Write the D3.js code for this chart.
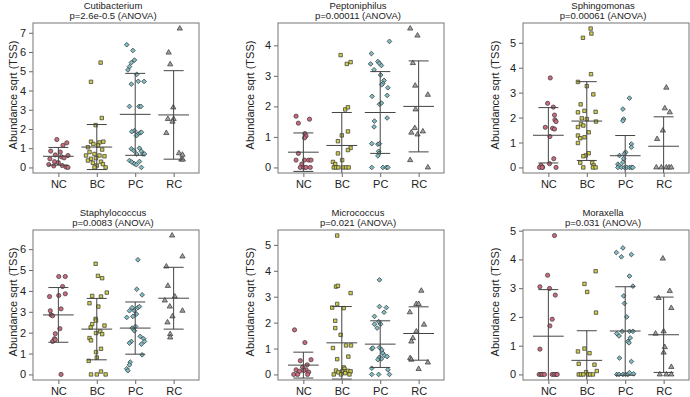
<!DOCTYPE html>
<html>
<head>
<meta charset="utf-8">
<script src="https://cdn.jsdelivr.net/npm/d3@7"></script>
<style>
  body { margin: 0; background: #fff; }
  text { font-family: "Liberation Sans", Arial, sans-serif; fill: #222; }
</style>
</head>
<body>
<div id="chart"></div>
<script>
// Groups and panel titles
const groups = ["NC", "BC", "PC", "RC"];
const taxa = ["Cutibacterium", "Peptoniphilus", "Sphingomonas", "Staphylococcus", "Micrococcus", "Moraxella"];
const pLabels = ["p=2.6e-0.5 (ANOVA)", "p=0.00011 (ANOVA)", "p=0.00061 (ANOVA)", "p=0.0083 (ANOVA)", "p=0.021 (ANOVA)", "p=0.031 (ANOVA)"];

// Group means and standard deviations (one row per taxon, NC BC PC RC)
const means = [
    [0.58, 1.06, 2.76, 2.73],
    [0.50, 0.72, 1.80, 2.00],
    [1.29, 1.86, 0.47, 0.85],
    [2.85, 2.17, 2.22, 3.65],
    [0.36, 1.22, 1.17, 1.58],
    [1.33, 0.49, 1.51, 1.38]
];
const sds = [
    [0.46, 1.17, 2.13, 2.30],
    [0.63, 1.08, 1.34, 1.49],
    [1.11, 1.58, 0.81, 1.18],
    [1.31, 1.47, 1.25, 1.48],
    [0.50, 1.40, 0.90, 1.03],
    [1.62, 1.03, 1.54, 1.31]
];

// Samples per group: [jitter offset, abundance]
const cutibacteriumPts = [
    [[-0.04,1.45],[0.22,1.28],[0.12,1.15],[-0.2,0.85],[0.05,0.8],[-0.08,0.65],[0.25,0.62],[0.08,0.55],[-0.22,0.45],[0.15,0.5],[-0.1,0.3],[0.0,0.25],[-0.25,0.15],[-0.12,0.08],[0.2,0.02],[0.25,0.0],[0.1,0.1]],
    [[0.1,5.45],[-0.15,4.45],[0.13,2.57],[-0.03,2.2],[-0.15,1.34],[0.07,1.3],[0.17,1.34],[-0.09,1.22],[0.03,1.14],[-0.23,1.05],[0.14,0.93],[-0.19,0.8],[-0.06,0.7],[-0.28,0.62],[0.07,0.62],[0.2,0.58],[-0.15,0.45],[-0.02,0.48],[-0.23,0.36],[0.11,0.3],[-0.1,0.24],[0.16,0.17],[0,0.1],[-0.06,0],[0.23,0]],
    [[-0.22,6.38],[-0.06,6.08],[-0.02,5.58],[-0.1,5.45],[-0.15,5.24],[-0.19,5.07],[0.04,4.84],[-0.1,4.33],[0.08,4.48],[0.23,4.47],[-0.15,3.17],[0.1,3.17],[0.15,3.17],[-0.02,1.91],[-0.09,1.86],[0.07,1.74],[0.03,1.65],[0.13,1.8],[0.16,1.83],[-0.1,0.97],[-0.04,0.88],[0.11,1.0],[0.16,0.84],[0.04,0.7],[0.2,0.7],[0.24,0.7],[-0.15,0.36],[-0.09,0.28],[-0.02,0.19],[0.03,0.14],[0.11,0.31],[0.16,0]],
    [[0.16,7.22],[-0.13,5.97],[-0.09,5.36],[-0.01,3.12],[-0.15,2.52],[0,2.52],[-0.03,2.38],[-0.19,1.79],[0.14,0.74],[0.23,0.66],[0.2,0.41],[0.24,0.41]]
];
const peptoniphilusPts = [
    [[-0.19,1.68],[0.16,1.58],[-0.13,1.45],[0.04,1.11],[0.07,1.03],[0.03,0.97],[-0.13,0.46],[-0.19,0.24],[0.03,0.24],[0.14,0.24],[0.2,0.24],[-0.04,0.11],[-0.08,0],[0.01,0],[0.07,0],[0.18,0]],
    [[-0.03,3.68],[0.13,3.39],[0.23,3.45],[0.09,1.9],[0.16,1.97],[0.16,1.18],[0,1.05],[-0.1,0.86],[0.23,0.64],[0.16,0.57],[-0.1,0.46],[0.01,0.24],[-0.23,0.18],[-0.17,0.11],[-0.21,0],[-0.15,0],[-0.09,0],[0.03,0],[0.11,0],[0.18,0]],
    [[0.24,4.13],[-0.23,3.73],[-0.25,3.39],[-0.06,3.47],[-0.02,3.41],[0.03,3.34],[-0.16,3.2],[0.01,3.03],[0.1,2.85],[0.07,2.76],[0.04,2.71],[0.2,2.61],[-0.21,2.33],[0.18,2.36],[-0.02,2.07],[0.03,2.11],[0.18,1.62],[-0.15,1.52],[-0.16,1.33],[-0.22,0.78],[-0.06,0.76],[-0.02,0.78],[-0.04,0.53],[-0.03,0.46],[-0.06,0.38],[-0.22,0],[0.07,0],[0.16,0],[0.2,0]],
    [[-0.22,4.55],[-0.03,4.32],[-0.15,3.42],[-0.09,2.68],[0.24,2.38],[-0.08,1.9],[-0.1,1.29],[-0.19,1.14],[0.11,1.18],[-0.03,1.08],[-0.22,0.24],[0.24,0]]
];
const sphingomonasPts = [
    [[0.05,3.59],[-0.02,2.57],[0.13,2.42],[0.16,2.1],[0.17,1.91],[0.2,1.84],[-0.08,1.61],[0.11,1.57],[0.16,1.54],[0.04,1.24],[0.14,0.35],[0.03,0.15],[-0.19,0.08],[-0.15,0.01],[-0.23,0],[-0.16,0],[0.2,0]],
    [[0.1,5.57],[0.12,5.37],[-0.1,5.2],[0.11,3.74],[-0.23,3.43],[0,3.26],[0.17,2.93],[-0.16,2.53],[-0.23,2.21],[-0.06,2.27],[0.23,2.23],[-0.13,1.97],[0,1.94],[0.24,1.84],[-0.15,1.74],[-0.09,1.68],[-0.23,1.62],[0.05,1.41],[-0.23,1.28],[-0.17,1.17],[-0.06,1.21],[-0.23,0.98],[0.05,0.57],[-0.03,0.48],[-0.09,0.45],[-0.17,0.19],[0.14,0.19],[0.18,0.08],[-0.09,0],[0.16,0],[0.23,0]],
    [[0.11,2.78],[-0.06,2.34],[-0.04,1.94],[-0.06,1.87],[0.16,0.94],[0.16,0.81],[0.01,0.61],[-0.02,0.55],[-0.15,0.48],[-0.04,0.35],[-0.06,0.21],[-0.19,0.13],[-0.15,0.08],[-0.19,0],[-0.1,0],[-0.02,0],[0.04,0],[0.11,0],[0.16,0],[0.2,0]],
    [[0.07,3.2],[0.03,2.37],[0.16,2.21],[-0.02,1.48],[-0.17,1.14],[-0.19,0],[-0.06,0],[0.07,0],[0.14,0],[0.2,0]]
];
const staphylococcusPts = [
    [[0.01,4.69],[0.18,4.69],[0.11,4.21],[-0.23,3.73],[0.01,3.78],[0.18,3.86],[0.07,3.14],[-0.21,3.05],[-0.19,2.85],[-0.15,2.81],[0.04,2.19],[-0.08,1.95],[-0.1,1.71],[-0.15,1.58],[-0.08,1.66],[0.07,0]],
    [[-0.03,5.3],[0.03,4.72],[0.14,4.61],[0.26,3.92],[-0.12,3.76],[0.11,3.73],[-0.19,3.41],[0.04,3.25],[-0.03,2.66],[-0.02,2.58],[0.2,2.34],[-0.12,2.41],[-0.16,2.25],[0.09,2.06],[-0.02,1.98],[0.14,1.93],[-0.19,1.74],[-0.15,1.63],[0.11,1.23],[-0.02,1.07],[0,0.81],[-0.21,0.65],[0.11,0.14],[-0.15,0],[0,0],[0.23,0]],
    [[0.07,5.49],[0.04,4.08],[0.18,3.81],[-0.15,3.05],[-0.02,3.05],[0.07,3.2],[-0.06,2.78],[-0.22,2.73],[0.03,2.89],[-0.08,3.2],[0.11,3.25],[0.01,2.3],[-0.08,2.22],[-0.02,2.09],[-0.1,1.58],[-0.15,1.5],[0.13,1.82],[0.22,1.71],[0.16,1.45],[0.24,1.58],[0.18,0.94],[-0.13,0.59],[-0.15,0.46],[-0.22,0.27],[-0.19,0.18]],
    [[-0.04,6.65],[0.23,5.65],[-0.19,5.17],[-0.15,4.24],[0.03,3.73],[-0.23,3.54],[-0.1,3.25],[0.23,3.05],[-0.03,2.78],[-0.16,2.49],[-0.09,1.93],[-0.09,1.77]]
];
const micrococcusPts = [
    [[-0.23,1.72],[0.04,1.23],[-0.08,0.53],[0.2,0.57],[0.1,0.37],[-0.02,0.28],[-0.19,0.18],[0.07,0.18],[-0.1,0.12],[0.01,0.15],[0.14,0.09],[-0.25,0],[-0.15,0],[0.11,0]],
    [[-0.12,5.36],[-0.15,3.39],[-0.1,3.42],[0.23,3.14],[-0.12,2.72],[-0.25,2.58],[0.05,2.56],[-0.17,2.07],[-0.17,1.79],[-0.03,1.53],[0.11,1.12],[0.24,1.12],[-0.23,1.02],[-0.12,0.59],[0.17,0.69],[0.05,0.27],[-0.15,0.15],[0.07,0.22],[0.01,0.12],[0.11,0.12],[0.16,0.14],[0.23,0.12],[-0.09,0.08],[0.09,0.05],[-0.21,0],[-0.02,0],[0.2,0]],
    [[-0.02,3.65],[-0.02,2.62],[0.16,2.58],[-0.15,2.24],[0.1,2.4],[-0.04,2.04],[0.01,1.94],[-0.08,1.79],[-0.15,1.94],[-0.22,0.99],[-0.19,1.02],[-0.02,1.04],[0.04,0.95],[0.07,0.82],[0.11,0.73],[-0.02,0.66],[-0.06,0.57],[0.03,0.6],[0.18,0.69],[-0.22,0.24],[0.2,0.18],[-0.22,0],[-0.04,0],[0.24,0]],
    [[0.07,3.23],[-0.06,2.72],[0,2.72],[-0.23,2.4],[0.14,1.92],[-0.06,1.66],[-0.15,1.4],[-0.19,1.27],[-0.22,0.63],[-0.19,0.57],[0.24,0.46],[0,0.21]]
];
const moraxellaPts = [
    [[0.16,4.83],[-0.02,3.45],[-0.22,3.05],[0.03,2.99],[0.18,2.76],[0.1,1.92],[0.04,1.69],[-0.22,0.88],[-0.24,0],[-0.19,0],[-0.15,0],[-0.1,0],[0.1,0],[0.15,0],[0.2,0],[0.23,0]],
    [[0.23,3.59],[-0.06,3.15],[0.01,2.87],[0.24,2.15],[-0.23,0.8],[-0.06,0.9],[0.07,0.74],[-0.21,0.37],[0.2,0.34],[0.26,0.12],[-0.02,0.08],[-0.21,0],[-0.15,0],[-0.09,0],[0.03,0],[0.09,0],[0.16,0]],
    [[-0.06,4.4],[-0.23,4.24],[-0.1,4.09],[0.16,4.17],[0.11,3.42],[0.2,3.07],[-0.04,2.73],[-0.02,2.47],[0.04,2.0],[-0.22,1.42],[-0.16,1.34],[0.11,1.5],[0.2,1.5],[-0.08,1.5],[0.13,1.27],[0.07,1.15],[0.1,1.1],[-0.15,0.57],[0.16,0.45],[-0.22,0],[-0.16,0],[-0.06,0],[0.01,0],[0.07,0],[0.22,0.02],[0.11,0.06]],
    [[-0.02,4.03],[0.16,2.9],[-0.13,2.66],[0.2,2.31],[-0.21,1.42],[0,1.5],[0.03,0.95],[0,0.76],[0.2,0.26],[-0.1,0],[0.07,0],[0.2,0]]
];
const panelPoints = [cutibacteriumPts, peptoniphilusPts, sphingomonasPts, staphylococcusPts, micrococcusPts, moraxellaPts];

// Layout
const width = 690, height = 397;
const boxW = 166, boxH = 150;
const colLeft = [33, 278, 523];
const rowTop = [23, 230];
const yLabelGap = [20, 28, 28];

const fills = ["#cc6a7e", "#cfcd4c", "#7fc0c8", "#a0a0a0"];
const symbols = [d3.symbolCircle, d3.symbolSquare, d3.symbolSquare, d3.symbolTriangle];
const symbolSizes = [14, 12, 11, 12];
const symbolRotate = [0, 0, 45, 0];

const svg = d3.select("#chart").append("svg")
    .attr("width", width)
    .attr("height", height);

taxa.forEach((taxon, i) => {
    const col = i % 3, row = Math.floor(i / 3);
    const pts = panelPoints[i];

    // x: groups at 1..4, R-style xlim 0.5..4.5 with 4% padding
    const x = d3.scaleLinear().domain([0.34, 4.66]).range([0, boxW]);

    // y: range of the samples with 4% padding
    const all = pts.flat().map(d => d[1]);
    const ext = d3.extent(all);
    const pad = (ext[1] - ext[0]) * 0.04;
    const y = d3.scaleLinear().domain([ext[0] - pad, ext[1] + pad]).range([boxH, 0]);

    const g = svg.append("g")
        .attr("transform", `translate(${colLeft[col]},${rowTop[row]})`);

    // clip for error bars
    g.append("clipPath").attr("id", "clip" + i)
        .append("rect").attr("width", boxW).attr("height", boxH);

    // y axis
    const yTicks = d3.range(Math.ceil(y.domain()[0]), Math.floor(y.domain()[1]) + 1);
    const yAxis = g.append("g")
        .call(d3.axisLeft(y).tickValues(yTicks).tickSize(4).tickPadding(3).tickFormat(d3.format("d")));
    yAxis.select(".domain").remove();
    yAxis.selectAll("line").attr("stroke", "#666");
    yAxis.selectAll("text").attr("font-size", 11).attr("fill", "#333")
        .style("font-family", "'Liberation Sans', Arial, sans-serif");

    // x axis
    const xAxis = g.append("g")
        .attr("transform", `translate(0,${boxH})`)
        .call(d3.axisBottom(x).tickValues([1, 2, 3, 4]).tickSize(4).tickPadding(3)
            .tickFormat(d => groups[d - 1]));
    xAxis.select(".domain").remove();
    xAxis.selectAll("line").attr("stroke", "#666");
    xAxis.selectAll("text").attr("font-size", 11).attr("fill", "#333")
        .style("font-family", "'Liberation Sans', Arial, sans-serif");

    // points
    pts.forEach((grp, gi) => {
        const sym = d3.symbol().type(symbols[gi]).size(symbolSizes[gi]);
        g.append("g").selectAll("path")
            .data(grp)
            .join("path")
            .attr("d", sym)
            .attr("transform", d => `translate(${x(gi + 1 + d[0])},${y(d[1])}) rotate(${symbolRotate[gi]})`)
            .attr("fill", fills[gi])
            .attr("stroke", "#333")
            .attr("stroke-width", 0.7);
    });

    // mean +/- sd bars
    const bars = g.append("g").attr("clip-path", `url(#clip${i})`)
        .attr("stroke", "#444").attr("stroke-width", 1);
    groups.forEach((grpName, gi) => {
        const m = means[i][gi], s = sds[i][gi], cx = gi + 1;
        bars.append("line")
            .attr("x1", x(cx)).attr("x2", x(cx))
            .attr("y1", y(m + s)).attr("y2", y(m - s));
        bars.append("line")
            .attr("x1", x(cx - 0.4)).attr("x2", x(cx + 0.4))
            .attr("y1", y(m)).attr("y2", y(m));
        [m + s, m - s].forEach(v => {
            bars.append("line")
                .attr("x1", x(cx - 0.26)).attr("x2", x(cx + 0.26))
                .attr("y1", y(v)).attr("y2", y(v));
        });
    });

    // frame
    g.append("rect")
        .attr("width", boxW).attr("height", boxH)
        .attr("fill", "none").attr("stroke", "#777").attr("stroke-width", 1);

    // titles
    g.append("text")
        .attr("x", boxW / 2 - 3).attr("y", -14.5)
        .attr("text-anchor", "middle").attr("font-size", 9.5)
        .text(taxon);
    g.append("text")
        .attr("x", boxW / 2 - 3).attr("y", -4)
        .attr("text-anchor", "middle").attr("font-size", 9.5)
        .text(pLabels[i]);

    // y label
    g.append("text")
        .attr("transform", `translate(${-yLabelGap[col]},${boxH / 2 - 3}) rotate(-90)`)
        .attr("text-anchor", "middle").attr("dy", "0.35em")
        .attr("font-size", 11)
        .text("Abundance sqrt (TSS)");
});
</script>
</body>
</html>
